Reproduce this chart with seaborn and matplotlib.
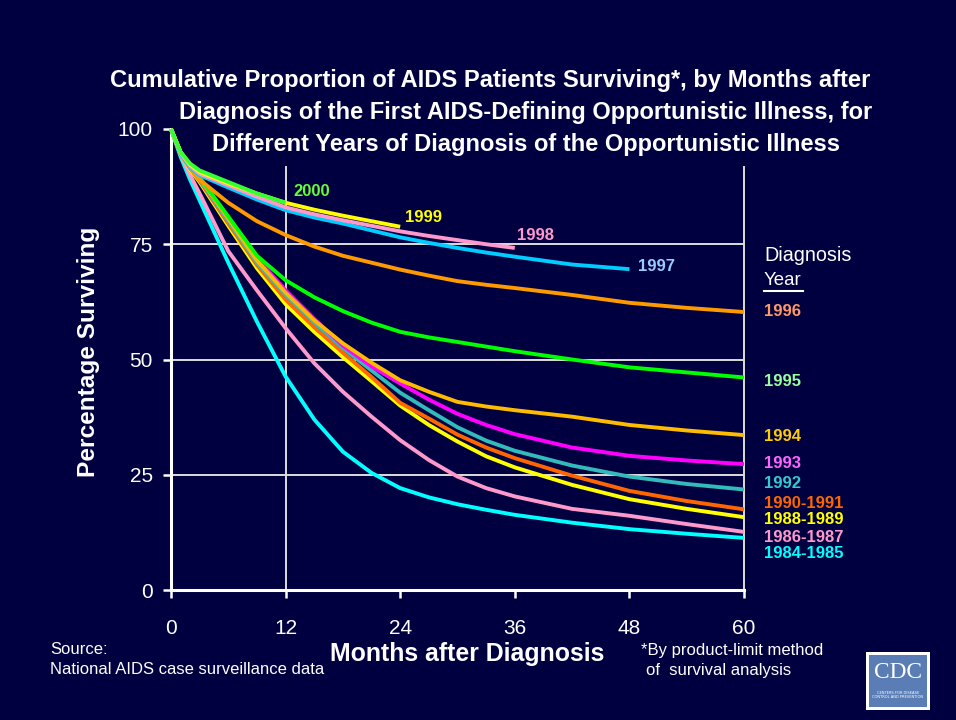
import matplotlib
matplotlib.use("Agg")
import matplotlib.pyplot as plt
import matplotlib.patches as mpatches
import seaborn as sns
import pandas as pd

# ---------------- data ----------------
months = [0, 1, 2, 3, 6, 9, 12, 15, 18, 21, 24, 27, 30, 33, 36, 42, 48, 54, 60]

years = ["1984-1985", "1986-1987", "1988-1989", "1990-1991", "1992", "1993",
         "1994", "1995", "1996", "1997", "1998", "1999", "2000"]

s_1984_1985 = [100, 94, 89, 84.5, 71, 58.2, 46.3, 37, 30, 25.4, 22.1, 20.1, 18.6, 17.4, 16.3, 14.6, 13.2, 12.2, 11.3]
s_1986_1987 = [100, 94.5, 90, 86, 73.5, 65, 56.8, 49.2, 43, 37.6, 32.5, 28.2, 24.6, 22.1, 20.3, 17.6, 16.1, 14.3, 12.6]
s_1988_1989 = [100, 94.6, 91.2, 88.5, 79, 69.8, 62, 56, 50.5, 45.3, 40, 35.8, 32.2, 29, 26.6, 22.8, 19.7, 17.6, 15.8]
s_1990_1991 = [100, 94.8, 91.5, 88.8, 79.5, 70.5, 63, 57, 51.5, 46.2, 40.6, 37.2, 33.7, 30.9, 28.6, 24.8, 21.5, 19.3, 17.5]
s_1992 = [100, 94.8, 91.7, 89, 80, 71, 64, 58, 52.5, 47.6, 42.8, 39, 35.3, 32.4, 30.2, 27, 24.6, 23, 21.8]
s_1993 = [100, 95, 92, 89.3, 80.5, 72, 65, 58.8, 53, 48.5, 44.8, 41.3, 38.2, 35.8, 33.8, 30.9, 29.1, 28.1, 27.3]
s_1994 = [100, 95, 92, 89.3, 80.5, 71.5, 64.5, 58.5, 53.5, 49.3, 45.5, 43, 40.8, 39.8, 39, 37.6, 35.8, 34.6, 33.6]
s_1995 = [100, 95, 92, 89.5, 81, 72.5, 67.2, 63.5, 60.5, 58, 56, 54.8, 53.8, 52.8, 51.8, 50, 48.3, 47.2, 46.1]
s_1996 = [100, 94.5, 91.5, 89, 84, 80, 77, 74.5, 72.5, 71, 69.5, 68.2, 67, 66.2, 65.5, 64, 62.3, 61.2, 60.3]
s_1997 = [100, 94.6, 91.6, 90, 87.3, 84.7, 82.4, 80.8, 79.5, 78, 76.5, 75.3, 74.2, 73.2, 72.3, 70.6, 69.6]
s_1998 = [100, 94.8, 92, 90.3, 87.8, 85.3, 83, 81.5, 80.2, 79, 77.8, 76.8, 75.9, 75, 74.2]
s_1999 = [100, 95, 92.3, 90.7, 88.2, 86, 84, 82.5, 81.2, 80, 78.8]
s_2000 = [100, 95, 92.5, 91, 88.5, 86, 84]

series = [s_1984_1985, s_1986_1987, s_1988_1989, s_1990_1991, s_1992, s_1993,
          s_1994, s_1995, s_1996, s_1997, s_1998, s_1999, s_2000]

line_colors = ["#00ffff", "#ff99cc", "#ffff00", "#ff6600", "#33bbbb", "#ff00ff",
               "#ffbb00", "#00ff00", "#ff9900", "#00ccff", "#ff99cc", "#ffff00", "#33ff33"]

# right-hand labels (years that run to 60 months)
right_labels = ["1996", "1995", "1994", "1993", "1992", "1990-1991", "1988-1989", "1986-1987", "1984-1985"]
right_label_colors = ["#ff9966", "#99ff99", "#ffcc00", "#ff66ff", "#33cccc", "#ff6600", "#ffff00", "#ff99cc", "#00ffff"]
right_label_y = [311, 381, 437, 464, 483, 503, 520, 537, 554]

# in-plot labels at line ends
end_labels = ["2000", "1999", "1998", "1997"]
end_label_colors = ["#66ff33", "#ffff00", "#ff99cc", "#99ccff"]
end_label_offsets = [(8, 11), (5, 9), (2, 12), (9, 3)]

x_ticks = [0, 12, 24, 36, 48, 60]
y_ticks = [0, 25, 50, 75, 100]

title_lines = ["Cumulative Proportion of AIDS Patients Surviving*, by Months after",
               "Diagnosis of the First AIDS-Defining Opportunistic Illness, for",
               "Different Years of Diagnosis of the Opportunistic Illness"]

rows = []
for yr, vals in zip(years, series):
    for m, v in zip(months, vals):
        rows.append({"month": m, "pct": v, "year": yr})
df = pd.DataFrame(rows)

# ---------------- style ----------------
BG = "#000040"
W, H = 956, 720
NARROW = ["Liberation Sans Narrow", "Liberation Sans", "DejaVu Sans"]
REG = ["Liberation Sans", "DejaVu Sans"]

fig = plt.figure(figsize=(W / 100, H / 100), dpi=100, facecolor=BG)
ax = fig.add_axes([171 / W, 1 - 590 / H, (744 - 171) / W, (590 - 129) / H])
ax.set_facecolor(BG)

renderer = fig.canvas.get_renderer()


def fit_text(x, y, s, width_px, ha="center", va="center", rotation=0, **kw):
    t = fig.text(x / W, 1 - y / H, s, ha=ha, va=va, rotation=rotation, **kw)
    bb = t.get_window_extent(renderer)
    cur = bb.height if rotation == 90 else bb.width
    t.set_fontsize(t.get_fontsize() * width_px / cur)
    return t


# grid
for yv in [25, 50, 75]:
    ax.axhline(yv, color="#dcdcdc", lw=1.4, zorder=1)
for xv in [12, 60]:
    ax.axvline(xv, ymin=0, ymax=0.92, color="#dcdcdc", lw=1.4, zorder=1)

palette = dict(zip(years, line_colors))
sns.lineplot(data=df, x="month", y="pct", hue="year", hue_order=years,
             palette=palette, legend=False, linewidth=2.8, ax=ax,
             estimator=None, sort=False, zorder=3)
for ln in ax.get_lines():
    ln.set_clip_on(False)
    ln.set_solid_capstyle("butt")
    ln.set_solid_joinstyle("round")

ax.set_xlim(0, 60)
ax.set_ylim(0, 100)
ax.set_xticks(x_ticks)
ax.set_yticks(y_ticks)
ax.set_xlabel("")
ax.set_ylabel("")
for sp in ["top", "right"]:
    ax.spines[sp].set_visible(False)
for sp in ["left", "bottom"]:
    ax.spines[sp].set_color("white")
    ax.spines[sp].set_linewidth(2.2)
ax.tick_params(axis="both", colors="white", length=6, width=1.8, direction="out",
               labelsize=15)
ax.tick_params(axis="x", pad=15)
ax.tick_params(axis="y", pad=7)
for lab in ax.get_xticklabels() + ax.get_yticklabels():
    lab.set_family(REG)
    lab.set_color("white")

# end labels
yr_index = {y: i for i, y in enumerate(years)}
lab_objs = []
for name, col, off in zip(end_labels, end_label_colors, end_label_offsets):
    vals = series[yr_index[name]]
    xm = months[len(vals) - 1]
    t = ax.annotate(name, (xm, vals[-1]), xytext=off, textcoords="offset pixels",
                    ha="left", va="center", color=col, fontweight="bold",
                    family=NARROW, fontsize=12, annotation_clip=False)
    lab_objs.append(t)

# titles
fit_text(490, 81, title_lines[0], 760, color="white", fontweight="bold", family=NARROW, fontsize=18)
fit_text(526, 113, title_lines[1], 692, color="white", fontweight="bold", family=NARROW, fontsize=18)
fit_text(526.5, 144, title_lines[2], 627, color="white", fontweight="bold", family=NARROW, fontsize=18)

# axis labels
fit_text(88, 352, "Percentage Surviving", 250, rotation=90, color="white",
         fontweight="bold", family=NARROW, fontsize=18)
fit_text(467, 654, "Months after Diagnosis", 275, color="white",
         fontweight="bold", family=NARROW, fontsize=18)

# right legend-like labels
fit_text(764, 255, "Diagnosis", 88, ha="left", color="white", family=NARROW, fontsize=14)
fit_text(764, 281, "Year", 38, ha="left", color="white", family=NARROW, fontsize=14)
fig.add_artist(plt.Line2D([764 / W, 803 / W], [1 - 291 / H, 1 - 291 / H], color="white", lw=1.5))

ref = fit_text(764, 503, "1990-1991", 79, ha="left", color="#ff6600",
               fontweight="bold", family=NARROW, fontsize=12)
fs = ref.get_fontsize()
ref.remove()
for name, col, yy in zip(right_labels, right_label_colors, right_label_y):
    fig.text(764 / W, 1 - yy / H, name, ha="left", va="center", color=col,
             fontweight="bold", family=NARROW, fontsize=fs)
for t in lab_objs:
    t.set_fontsize(fs)

# footnotes
fs_src = fit_text(50, 670, "National AIDS case surveillance data", 273, ha="left",
                  color="white", family=NARROW, fontsize=11).get_fontsize()
fig.text(50 / W, 1 - 649 / H, "Source:", ha="left", va="center", color="white",
         family=NARROW, fontsize=fs_src)
fig.text(641 / W, 1 - 650 / H, "*By product-limit method", ha="left", va="center",
         color="white", family=NARROW, fontsize=fs_src)
fig.text(646 / W, 1 - 670 / H, "of  survival analysis", ha="left", va="center",
         color="white", family=NARROW, fontsize=fs_src)

# CDC logo
fig.add_artist(mpatches.Rectangle((866 / W, 1 - 710 / H), 64 / W, 58 / H,
                                  transform=fig.transFigure, facecolor="white",
                                  edgecolor="none"))
fig.add_artist(mpatches.Rectangle((869 / W, 1 - 707 / H), 58 / W, 52 / H,
                                  transform=fig.transFigure, facecolor="#5a7db5",
                                  edgecolor="none"))
fit_text(898, 673, "CDC", 48, color="white", family=["Liberation Serif", "DejaVu Serif"], fontsize=20)
fig.text(898 / W, 1 - 695 / H, "CENTERS FOR DISEASE\nCONTROL AND PREVENTION", ha="center",
         va="center", color="white", fontsize=2.6, linespacing=1.2)

fig.savefig("out.png", dpi=100, facecolor=BG)
